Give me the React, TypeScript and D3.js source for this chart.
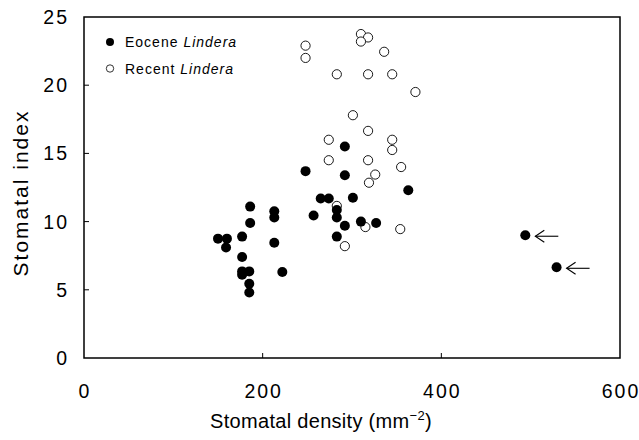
import React from 'react';
import * as d3 from 'd3';

// Eocene Lindera (filled)
const eoceneDensity = [248, 292, 292, 265, 274, 301, 186, 213, 213, 257, 283, 283, 292, 310, 327, 363, 186, 150, 160, 159, 177, 213, 283, 177, 177, 185, 177, 222, 185, 185, 494, 529];
const eoceneIndex = [13.7, 13.4, 15.5, 11.7, 11.7, 11.75, 11.1, 10.75, 10.3, 10.45, 10.85, 10.3, 9.7, 10.0, 9.9, 12.3, 9.9, 8.75, 8.75, 8.1, 8.9, 8.45, 8.9, 7.4, 6.35, 6.35, 6.1, 6.3, 5.45, 4.8, 9.0, 6.65];

// Recent Lindera (open)
const recentDensity = [248, 248, 310, 318, 310, 336, 283, 318, 345, 371, 301, 318, 274, 345, 345, 274, 318, 355, 326, 319, 283, 315, 354, 292];
const recentIndex = [22.9, 22.0, 23.75, 23.5, 23.2, 22.45, 20.8, 20.8, 20.8, 19.5, 17.8, 16.65, 16.0, 16.0, 15.25, 14.5, 14.5, 14.0, 13.45, 12.85, 11.15, 9.6, 9.45, 8.2];

// points marked with arrows (index into eocene arrays)
const arrowed = [30, 31];

const xTicks = [0, 200, 400, 600];
const yTicks = [0, 5, 10, 15, 20, 25];

const font = 'Liberation Sans, Arial, Helvetica, sans-serif';

export default function App() {
  const width = 639;
  const height = 440;
  const margin = { top: 17, right: 19, bottom: 82, left: 84 };
  const innerW = width - margin.left - margin.right;
  const innerH = height - margin.top - margin.bottom;

  const x = d3.scaleLinear().domain([0, 600]).range([0, innerW]);
  const y = d3.scaleLinear().domain([0, 25]).range([innerH, 0]);

  const eocene = eoceneDensity.map((d, i) => ({ x: d, y: eoceneIndex[i] }));
  const recent = recentDensity.map((d, i) => ({ x: d, y: recentIndex[i] }));

  return (
    <svg width={width} height={height} style={{ position: 'absolute', left: 0, top: 0, background: '#fff' }} fontFamily={font}>
      <g transform={`translate(${margin.left},${margin.top})`}>
        <rect x={0} y={0} width={innerW} height={innerH} fill="none" stroke="#000" strokeWidth={1.5} />

        {yTicks.filter(t => t > 0 && t < 25).map(t => (
          <line key={'yt' + t} x1={0} x2={5} y1={y(t)} y2={y(t)} stroke="#000" strokeWidth={1} />
        ))}
        {xTicks.filter(t => t > 0 && t < 600).map(t => (
          <line key={'xt' + t} x1={x(t)} x2={x(t)} y1={innerH} y2={innerH - 5} stroke="#000" strokeWidth={1} />
        ))}

        {yTicks.map(t => (
          <text key={'yl' + t} x={-15} y={y(t)} dy="0.36em" textAnchor="end" fontSize={19.5} letterSpacing={2} fill="#000">
            {t}
          </text>
        ))}
        {xTicks.map(t => (
          <text key={'xl' + t} x={x(t) + 1} y={innerH + 40} textAnchor="middle" fontSize={19.5} letterSpacing={2} fill="#000">
            {t}
          </text>
        ))}

        {recent.map((d, i) => (
          <circle key={'r' + i} cx={x(d.x)} cy={y(d.y)} r={4.6} fill="#fff" stroke="#000" strokeWidth={0.9} />
        ))}
        {eocene.map((d, i) => (
          <circle key={'e' + i} cx={x(d.x)} cy={y(d.y)} r={5} fill="#000" />
        ))}

        {arrowed.map(i => {
          const px = x(eocene[i].x);
          const py = y(eocene[i].y);
          return (
            <g key={'a' + i} stroke="#000" strokeWidth={1.1} fill="none">
              <line x1={px + 10} x2={px + 33} y1={py + 1} y2={py + 1} />
              <polyline points={`${px + 19},${py - 5} ${px + 10},${py + 1} ${px + 19},${py + 7}`} />
            </g>
          );
        })}

        <g transform="translate(26,25)">
          <circle cx={0} cy={0} r={4} fill="#000" />
          <text x={15} y={5} fontSize={14} letterSpacing={1} fill="#000">
            Eocene <tspan fontStyle="italic">Lindera</tspan>
          </text>
          <circle cx={0} cy={26.5} r={3.7} fill="#fff" stroke="#000" strokeWidth={0.8} />
          <text x={15} y={31.5} fontSize={14} letterSpacing={1} fill="#000">
            Recent <tspan fontStyle="italic">Lindera</tspan>
          </text>
        </g>
      </g>

      <text x={321} y={428} textAnchor="middle" fontSize={20} letterSpacing={0.3} fill="#000">
        Stomatal density (mm<tspan dy={-8} fontSize={13}>−2</tspan><tspan dy={8}>)</tspan>
      </text>
      <text transform="translate(28,193) rotate(-90)" textAnchor="middle" fontSize={21} letterSpacing={2} fill="#000">
        Stomatal index
      </text>
    </svg>
  );
}
